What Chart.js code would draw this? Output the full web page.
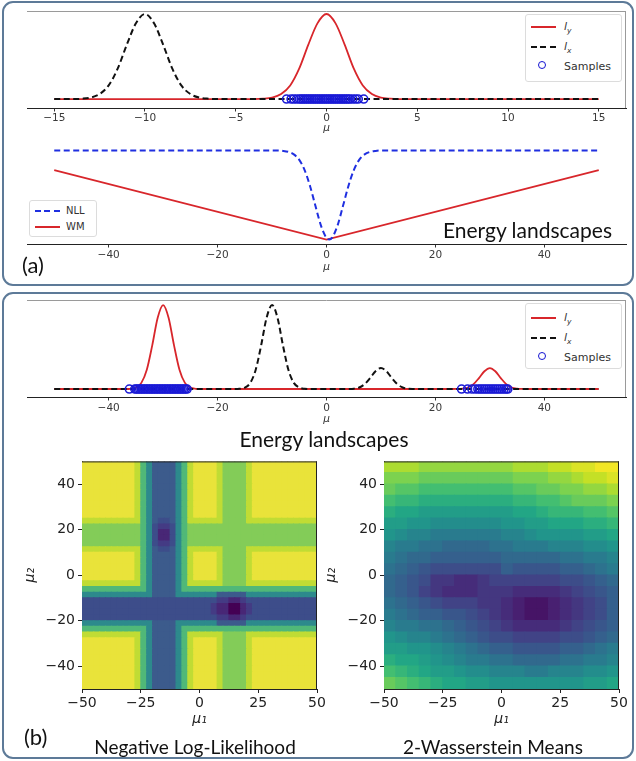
<!DOCTYPE html>
<html>
<head>
<meta charset="utf-8">
<title>Energy landscapes</title>
<script src="https://cdn.jsdelivr.net/npm/chart.js@4.4.1/dist/chart.umd.min.js"></script>
<style>
  body { margin:0; width:636px; height:761px; position:relative; overflow:hidden; background:#fff; }
  canvas { position:absolute; }
  .panel { position:absolute; box-sizing:border-box; border:2.5px solid #5d7a98; border-radius:11px; }
  .lbl { position:absolute; font-family:Lato, 'Open Sans', sans-serif; color:#111; white-space:nowrap; line-height:1; }
  .leg { position:absolute; box-sizing:border-box; background:#fff; border:1px solid #dcdcdc; border-radius:3px;
         font-family:'DejaVu Sans', sans-serif; font-size:11px; color:#333; }
  .leg .ln { position:absolute; width:25px; height:2px; }
  .leg .solid { background:#d8262b; }
  .leg .dash { background:repeating-linear-gradient(90deg,#111 0 6px,transparent 6px 9.5px); }
  .leg .bdash { background:repeating-linear-gradient(90deg,#1f2fe0 0 6px,transparent 6px 9.5px); }
  .leg .dot { position:absolute; width:6px; height:6px; border:1.8px solid #1414d2; border-radius:50%; }
  .leg .lt { position:absolute; line-height:1; }
  .leg sub { font-size:7.5px; }
</style>
</head>
<body>
<div class="panel" style="left:2px;top:1px;width:632px;height:285px"></div>
<div class="panel" style="left:2px;top:292px;width:632px;height:467px"></div>

<canvas id="a1" width="636" height="140" style="left:0;top:0"></canvas>
<canvas id="a2" width="636" height="145" style="left:0;top:140px"></canvas>
<canvas id="b1" width="636" height="135" style="left:0;top:293px"></canvas>
<canvas id="h1" width="330" height="285" style="left:0;top:450px"></canvas>
<canvas id="h2" width="320" height="285" style="left:316px;top:450px"></canvas>

<div class="leg" style="left:525px;top:14px;width:97px;height:68px">
  <div class="ln solid" style="left:5px;top:11px"></div><div class="lt" style="left:38px;top:6px"><i>l</i><sub><i>y</i></sub></div>
  <div class="ln dash" style="left:5px;top:31px"></div><div class="lt" style="left:38px;top:26px"><i>l</i><sub><i>x</i></sub></div>
  <div class="dot" style="left:12px;top:46px"></div><div class="lt" style="left:38px;top:46px">Samples</div>
</div>
<div class="leg" style="left:29px;top:200px;width:68px;height:37px;font-size:10px">
  <div class="ln bdash" style="left:5px;top:9px"></div><div class="lt" style="left:36px;top:5px">NLL</div>
  <div class="ln solid" style="left:5px;top:25px"></div><div class="lt" style="left:36px;top:21px">WM</div>
</div>
<div class="leg" style="left:525px;top:303px;width:97px;height:66px">
  <div class="ln solid" style="left:5px;top:13px"></div><div class="lt" style="left:38px;top:8px"><i>l</i><sub><i>y</i></sub></div>
  <div class="ln dash" style="left:5px;top:33px"></div><div class="lt" style="left:38px;top:28px"><i>l</i><sub><i>x</i></sub></div>
  <div class="dot" style="left:12px;top:48px"></div><div class="lt" style="left:38px;top:48px">Samples</div>
</div>

<div class="lbl" style="left:22px;top:254px;font-size:22px">(a)</div>
<div class="lbl" style="right:24px;top:219px;font-size:21px">Energy landscapes</div>
<div class="lbl" style="left:174px;width:300px;text-align:center;top:428px;font-size:21px">Energy landscapes</div>
<div class="lbl" style="left:24px;top:726px;font-size:22px">(b)</div>
<div class="lbl" style="left:45px;width:300px;text-align:center;top:737px;font-size:19px">Negative Log-Likelihood</div>
<div class="lbl" style="left:343px;width:300px;text-align:center;top:737px;font-size:19px">2-Wasserstein Means</div>

<script>
// ---------- data: panel (a) top ----------
const a1Ticks = [-15, -10, -5, 0, 5, 10, 15];
const a1LyX = [-15, -4, -3.5, -3, -2.5, -2, -1.5, -1, -0.5, 0, 0.5, 1, 1.5, 2, 2.5, 3, 3.5, 4, 15];
const a1LyY = [0, 0, 0.004, 0.017, 0.059, 0.16, 0.36, 0.64, 0.89, 1, 0.89, 0.64, 0.36, 0.16, 0.059, 0.017, 0.004, 0, 0];
const a1LxX = [-15, -14, -13.5, -13, -12.5, -12, -11.5, -11, -10.5, -10, -9.5, -9, -8.5, -8, -7.5, -7, -6.5, -6, 15];
const a1LxY = [0, 0, 0.004, 0.017, 0.059, 0.16, 0.36, 0.64, 0.89, 1, 0.89, 0.64, 0.36, 0.16, 0.059, 0.017, 0.004, 0, 0];
const a1Samples = [-2.2, -1.95, -1.8, -1.65, -1.5, -1.4, -1.3, -1.2, -1.1, -1, -0.9, -0.8, -0.7, -0.6, -0.5, -0.4, -0.3,
  -0.2, -0.1, 0, 0.1, 0.2, 0.3, 0.4, 0.5, 0.6, 0.7, 0.8, 0.9, 1, 1.1, 1.2, 1.3, 1.45, 1.6, 1.75, 2.05];

// ---------- data: panel (a) energy ----------
const a2Ticks = [-40, -20, 0, 20, 40];
const a2NllX = [-50, -9, -8, -7, -6, -5, -4, -3, -2, -1, 0, 0.5, 1, 2, 3, 4, 5, 6, 7, 8, 9, 10, 50];
const a2NllY = [1, 0.999, 0.995, 0.984, 0.956, 0.894, 0.777, 0.596, 0.37, 0.153, 0.018, 0, 0.018, 0.153, 0.37, 0.596,
  0.777, 0.894, 0.956, 0.984, 0.995, 0.999, 1];
const a2WmX = [-50, 0, 50];
const a2WmY = [0.78, 0, 0.78];

// ---------- data: panel (b) top ----------
const b1Ticks = [-40, -20, 0, 20, 40];
const b1LyX = [-50, -37, -36, -35, -34, -33, -32, -31, -30, -29, -28, -27, -26, -25, -24, -23,
  23, 24, 25, 26, 27, 28, 29, 30, 31, 32, 33, 34, 35, 36, 37, 50];
const b1LyY = [0, 0, 0.003, 0.017, 0.073, 0.23, 0.52, 0.849, 1, 0.849, 0.52, 0.23, 0.073, 0.017, 0.003, 0,
  0, 0.001, 0.004, 0.018, 0.058, 0.13, 0.212, 0.25, 0.212, 0.13, 0.058, 0.018, 0.004, 0.001, 0, 0];
const b1LxX = [-50, -17, -16, -15, -14, -13, -12, -11, -10, -9, -8, -7, -6, -5, -4, -3,
  3, 4, 5, 6, 7, 8, 9, 10, 11, 12, 13, 14, 15, 16, 17, 50];
const b1LxY = [0, 0, 0.003, 0.017, 0.073, 0.23, 0.52, 0.849, 1, 0.849, 0.52, 0.23, 0.073, 0.017, 0.003, 0,
  0, 0.001, 0.004, 0.018, 0.058, 0.13, 0.212, 0.25, 0.212, 0.13, 0.058, 0.018, 0.004, 0.001, 0, 0];
const b1Samples = [-36.2, -35.2, -34.9, -34.6, -34.3, -34, -33.7, -33.4, -33.1, -32.8, -32.5, -32.2, -31.9, -31.6,
  -31.3, -31, -30.7, -30.4, -30.1, -29.8, -29.5, -29.2, -28.9, -28.6, -28.3, -28, -27.7, -27.4, -27.1, -26.8,
  -26.5, -26.2, -25.9, -25.6,
  24.8, 25.9, 26.7, 27.3, 27.8, 28.2, 28.6, 29, 29.4, 29.8, 30.2, 30.6, 31, 31.4, 31.8, 32.2, 32.6, 33, 33.3];

// ---------- data: heat maps ----------
const hTicksX = [-50, -25, 0, 25, 50];
const hTicksY = [-40, -20, 0, 20, 40];

// NLL: 40 x 40 cells of 2.5 units, level 0 (dark) .. 9 (yellow), rows from mu2 = 48.75 down
const nllCenters = [-48.75, -46.25, -43.75, -41.25, -38.75, -36.25, -33.75, -31.25, -28.75, -26.25,
  -23.75, -21.25, -18.75, -16.25, -13.75, -11.25, -8.75, -6.25, -3.75, -1.25,
  1.25, 3.75, 6.25, 8.75, 11.25, 13.75, 16.25, 18.75, 21.25, 23.75,
  26.25, 28.75, 31.25, 33.75, 36.25, 38.75, 41.25, 43.75, 46.25, 48.75];
const rowY   = "9999999998" + "6544445689" + "9998777789" + "9999999999";
const rowYG  = "8888888888" + "6544445688" + "8888777788" + "8888888888";
const rowYGs = "8888888888" + "6543345688" + "8888777788" + "8888888888";
const rowGa  = "7777777777" + "6532235677" + "7777777777" + "7777777777";
const rowGb  = "7777777777" + "6531135677" + "7777777777" + "7777777777";
const rowTG  = "6666666666" + "6544445666" + "6666666666" + "6666666666";
const rowT   = "5555555555" + "5544445555" + "5554444455" + "5555555555";
const rowBa  = "3333333333" + "3333333333" + "3332211233" + "3333333333";
const rowBb  = "3333333333" + "3333333333" + "3321100123" + "3333333333";
const nllRows = [
  rowY, rowY, rowY, rowY, rowY, rowY, rowY, rowY, rowY, rowY,
  rowYGs, rowGa, rowGb, rowGb, rowGa, rowYGs,
  rowY, rowY, rowY, rowY, rowY,
  rowYG, rowTG, rowT, rowBa, rowBb, rowBb, rowBa, rowT, rowTG, rowYG,
  rowY, rowY, rowY, rowY, rowY, rowY, rowY, rowY, rowY
];

// 2-Wasserstein: 20 x 20 cells of 5 units, rows from mu2 = 47.5 down
const wCenters = [-47.5, -42.5, -37.5, -32.5, -27.5, -22.5, -17.5, -12.5, -7.5, -2.5,
  2.5, 7.5, 12.5, 17.5, 22.5, 27.5, 32.5, 37.5, 42.5, 47.5];
const wRows = [
  [49.8, 49.1, 48.4, 47.9, 47.5, 47.2, 47.1, 47.1, 47.2, 47.5, 47.9, 48.4, 49.1, 49.8, 50.7, 51.7, 52.7, 53.9, 55.2, 56.5],
  [45.9, 45.1, 44.4, 43.8, 43.4, 43.1, 42.9, 42.9, 43.1, 43.4, 43.8, 44.4, 45.1, 45.9, 46.8, 47.9, 49.1, 50.3, 51.7, 52.4],
  [42.1, 41.2, 40.4, 39.8, 39.3, 39.0, 38.8, 38.8, 39.0, 39.3, 39.8, 40.4, 41.2, 42.1, 43.1, 44.2, 45.5, 46.8, 47.5, 48.3],
  [38.3, 37.3, 36.5, 35.8, 35.3, 34.9, 34.7, 34.7, 34.9, 35.3, 35.8, 36.5, 37.3, 38.3, 39.5, 40.7, 42.1, 42.6, 43.4, 44.2],
  [34.7, 33.6, 32.7, 31.9, 31.3, 30.9, 30.7, 30.7, 30.9, 31.3, 31.9, 32.7, 33.6, 34.7, 36.0, 37.3, 37.8, 38.5, 39.3, 40.2],
  [31.3, 30.1, 29.1, 28.2, 27.5, 27.0, 26.8, 26.8, 27.0, 27.5, 28.2, 29.1, 30.1, 31.3, 32.7, 33.1, 33.6, 34.4, 35.3, 36.3],
  [28.2, 26.8, 25.6, 24.6, 23.9, 23.3, 23.1, 23.1, 23.3, 23.9, 24.6, 25.6, 26.8, 28.2, 28.4, 28.8, 29.5, 30.3, 31.3, 32.5],
  [25.4, 23.9, 22.5, 21.4, 20.5, 19.8, 19.5, 19.5, 19.8, 20.5, 21.4, 22.5, 23.9, 23.8, 24.1, 24.6, 25.4, 26.3, 27.5, 28.8],
  [23.0, 21.4, 19.8, 18.5, 17.5, 16.8, 16.4, 16.4, 16.8, 17.5, 18.5, 19.8, 19.5, 19.5, 19.8, 20.5, 21.4, 22.5, 23.9, 25.4],
  [21.0, 19.0, 17.0, 15.0, 13.5, 12.5, 12.0, 12.0, 12.5, 13.5, 16.4, 15.6, 15.2, 15.2, 15.6, 16.4, 17.5, 18.9, 20.5, 22.2],
  [19.5, 17.0, 14.5, 12.0, 9.5, 8.0, 7.5, 7.5, 8.5, 10.5, 11.5, 11.4, 10.9, 10.9, 11.4, 12.5, 13.9, 15.6, 17.5, 19.5],
  [19.5, 17.0, 14.5, 11.5, 9.0, 7.5, 7.0, 7.0, 8.0, 9.5, 9.0, 7.5, 6.6, 6.6, 7.5, 9.0, 10.9, 13.0, 15.2, 17.5],
  [20.5, 18.0, 16.0, 14.0, 12.0, 10.5, 10.0, 10.0, 9.5, 8.5, 6.6, 4.4, 2.5, 2.5, 4.4, 6.6, 9.1, 11.5, 13.9, 16.4],
  [22.0, 20.0, 18.5, 17.0, 16.0, 15.0, 14.5, 13.0, 11.5, 9.1, 6.6, 4.4, 2.5, 2.5, 4.4, 6.6, 9.1, 11.5, 13.9, 16.4],
  [25.4, 23.9, 22.5, 21.4, 20.5, 19.8, 17.5, 15.2, 13.0, 10.9, 9.0, 7.5, 6.6, 6.6, 7.5, 9.0, 10.9, 13.0, 15.2, 17.5],
  [28.2, 26.8, 25.6, 24.6, 23.9, 21.7, 19.5, 17.5, 15.6, 13.9, 12.5, 11.4, 10.9, 10.9, 11.4, 12.5, 13.9, 15.6, 17.5, 19.5],
  [31.3, 30.1, 29.1, 28.2, 26.1, 24.1, 22.2, 20.5, 18.9, 17.5, 16.4, 15.6, 15.2, 15.2, 15.6, 16.4, 17.5, 18.9, 20.5, 22.2],
  [34.7, 33.6, 32.7, 30.7, 28.8, 27.1, 25.4, 23.9, 22.5, 21.4, 20.5, 19.8, 19.5, 19.5, 19.8, 20.5, 21.4, 22.5, 23.9, 25.4],
  [38.3, 37.3, 35.4, 33.6, 31.9, 30.3, 28.8, 27.5, 26.3, 25.4, 24.6, 24.1, 23.8, 23.8, 24.1, 24.6, 25.4, 26.3, 27.5, 28.8],
  [42.1, 40.2, 38.5, 36.8, 35.3, 33.8, 32.5, 31.3, 30.3, 29.5, 28.8, 28.4, 28.2, 28.2, 28.4, 28.8, 29.5, 30.3, 31.3, 32.5]
];

// ---------- styling helpers ----------
Chart.defaults.font.family = "'DejaVu Sans', sans-serif";

const nllPalette = { '0': '#440154', '1': '#482776', '2': '#443b84', '3': '#3d4d8a', '4': '#3c5b8c',
  '5': '#2d8a8c', '6': '#50b878', '7': '#83cc58', '8': '#c0dc34', '9': '#e9e33a' };
const viridisStops = ['#440154', '#482475', '#414487', '#355f8d', '#2a788e', '#21918c', '#22a884', '#44bf70',
  '#7ad151', '#bddf26', '#fde725'];
const wMax = 56, wLevels = 28;

function hexRgb(h) { const n = parseInt(h.slice(1), 16); return [n >> 16, (n >> 8) & 255, n & 255]; }
function viridis(t) {
  t = Math.min(1, Math.max(0, t));
  const f = t * 10, i = Math.min(9, Math.floor(f)), k = f - i;
  const a = hexRgb(viridisStops[i]), b = hexRgb(viridisStops[i + 1]);
  return 'rgb(' + a.map((c, j) => Math.round(c + (b[j] - c) * k)).join(',') + ')';
}
function wColor(v) { return viridis((Math.min(wLevels - 1, Math.floor(v / wMax * wLevels)) + 0.5) / wLevels); }

const fmt = v => (v < 0 ? '\u2212' + Math.abs(v) : '' + v);
const pts = (xs, ys) => xs.map((x, i) => ({ x: x, y: ys[i] }));

const framePlugin = {
  id: 'frame',
  afterDraw(chart, args, o) {
    if (!o || !o.sides) return;
    const ctx = chart.ctx, a = chart.chartArea;
    ctx.save();
    ctx.strokeStyle = o.color;
    ctx.lineWidth = 1;
    ctx.beginPath();
    if (o.sides.includes('t')) { ctx.moveTo(a.left, a.top + 0.5); ctx.lineTo(a.right, a.top + 0.5); }
    if (o.sides.includes('r')) { ctx.moveTo(a.right - 0.5, a.top); ctx.lineTo(a.right - 0.5, a.bottom); }
    if (o.sides.includes('l')) { ctx.moveTo(a.left + 0.5, a.top); ctx.lineTo(a.left + 0.5, a.bottom); }
    ctx.stroke();
    ctx.restore();
  }
};

function lineChart(id, c) {
  return new Chart(document.getElementById(id), {
    type: 'scatter',
    data: { datasets: c.datasets },
    options: {
      responsive: false, animation: false, events: [],
      layout: { padding: c.pad },
      plugins: { legend: { display: false }, tooltip: { enabled: false }, frame: c.frame },
      scales: {
        x: {
          type: 'linear', min: c.xMin, max: c.xMax,
          afterBuildTicks: s => { s.ticks = c.ticks.map(v => ({ value: v })); },
          afterFit: s => { s.height = c.axisH; },
          grid: { drawOnChartArea: false, drawTicks: true, tickLength: 3.5, color: '#333' },
          border: { display: true, color: '#222', width: 1 },
          ticks: { font: { size: 10.5 }, color: '#3a3a3a', padding: c.tickPad, maxRotation: 0, autoSkip: false, callback: fmt },
          title: { display: true, text: 'μ', color: '#333', font: { size: 10.5, style: 'italic' }, padding: { top: 0, bottom: c.titlePad } }
        },
        y: { display: false, min: c.yMin, max: c.yMax }
      }
    },
    plugins: [framePlugin]
  });
}

const sampleStyle = { showLine: false, pointRadius: 4, pointBorderWidth: 1.6, pointBorderColor: '#1a1ad6',
  pointBackgroundColor: 'rgba(0,0,0,0)', order: 0 };
const redLine = { showLine: true, borderColor: '#d8262b', borderWidth: 1.8, pointRadius: 0, cubicInterpolationMode: 'monotone', order: 2 };
const blackDash = { showLine: true, borderColor: '#111', borderWidth: 2, borderDash: [6, 3.5], pointRadius: 0, cubicInterpolationMode: 'monotone', order: 1 };

lineChart('a1', {
  xMin: -16.5, xMax: 16.5, yMin: -0.105, yMax: 1.035, ticks: a1Ticks,
  pad: { left: 27, right: 10, top: 11, bottom: 0 }, axisH: 32, tickPad: 0.5, titlePad: 5.5,
  frame: { sides: 'tr', color: '#9a9a9a' },
  datasets: [
    Object.assign({ label: 'Samples', data: a1Samples.map(x => ({ x: x, y: 0 })) }, sampleStyle),
    Object.assign({ label: 'l_x', data: pts(a1LxX, a1LxY) }, blackDash),
    Object.assign({ label: 'l_y', data: pts(a1LyX, a1LyY) }, redLine)
  ]
});

lineChart('a2', {
  xMin: -55, xMax: 55, yMin: -0.05, yMax: 1.05, ticks: a2Ticks,
  pad: { left: 27, right: 10, top: 6, bottom: 0 }, axisH: 41, tickPad: 1.5, titlePad: 11.5,
  frame: {},
  datasets: [
    { label: 'NLL', data: pts(a2NllX, a2NllY), showLine: true, borderColor: '#1f2fe0', borderWidth: 2,
      borderDash: [6, 3.5], pointRadius: 0, cubicInterpolationMode: 'monotone' },
    { label: 'WM', data: pts(a2WmX, a2WmY), showLine: true, borderColor: '#d8262b', borderWidth: 1.8, pointRadius: 0 }
  ]
});

lineChart('b1', {
  xMin: -55, xMax: 55, yMin: -0.095, yMax: 1.06, ticks: b1Ticks,
  pad: { left: 27, right: 10, top: 7, bottom: 0 }, axisH: 31, tickPad: 1.5, titlePad: 2.5,
  frame: { sides: 'tr', color: '#9a9a9a' },
  datasets: [
    Object.assign({ label: 'Samples', data: b1Samples.map(x => ({ x: x, y: 0 })) }, sampleStyle),
    Object.assign({ label: 'l_x', data: pts(b1LxX, b1LxY) }, blackDash),
    Object.assign({ label: 'l_y', data: pts(b1LyX, b1LyY) }, redLine)
  ]
});

// ---------- heat maps ----------
function heatChart(id, cells, step, colorOf, c) {
  const tickFont = { size: 14 };
  const titleFont = { size: 14, style: 'italic' };
  return new Chart(document.getElementById(id), {
    type: 'scatter',
    data: { datasets: [{
      data: cells, pointStyle: 'rect', pointBorderWidth: 0, clip: 0,
      pointRadius: ctx => {
        const s = ctx.chart.scales.x;
        return (Math.abs(s.getPixelForValue(step) - s.getPixelForValue(0)) + 1) * Math.SQRT1_2;
      },
      pointBackgroundColor: ctx => colorOf(ctx.raw.v)
    }] },
    options: {
      responsive: false, animation: false, events: [],
      layout: { padding: c.pad },
      plugins: { legend: { display: false }, tooltip: { enabled: false }, frame: { sides: 'tr', color: '#222' } },
      scales: {
        x: {
          type: 'linear', min: -50, max: 50,
          afterBuildTicks: s => { s.ticks = hTicksX.map(v => ({ value: v })); },
          afterFit: s => { s.height = c.axisH; },
          grid: { drawOnChartArea: false, tickLength: 4, color: '#222' },
          border: { color: '#222' },
          ticks: { font: tickFont, color: '#222', padding: 2, maxRotation: 0, autoSkip: false, callback: fmt },
          title: { display: true, text: 'μ₁', color: '#222', font: titleFont, padding: { top: 0, bottom: c.xTitlePad } }
        },
        y: {
          type: 'linear', min: -50, max: 50,
          afterBuildTicks: s => { s.ticks = hTicksY.map(v => ({ value: v })); },
          afterFit: s => { s.width = c.axisW; },
          grid: { drawOnChartArea: false, tickLength: 4, color: '#222' },
          border: { color: '#222' },
          ticks: { font: tickFont, color: '#222', padding: 3, autoSkip: false, callback: fmt },
          title: { display: true, text: 'μ₂', color: '#222', font: titleFont, padding: { top: c.yTitlePad, bottom: 0 } }
        }
      }
    },
    plugins: [framePlugin]
  });
}

const nllCells = [];
nllRows.forEach((row, r) => {
  for (let i = 0; i < row.length; i++) nllCells.push({ x: nllCenters[i], y: nllCenters[nllCenters.length - 1 - r], v: row[i] });
});
const wCells = [];
wRows.forEach((row, r) => {
  row.forEach((v, i) => wCells.push({ x: wCenters[i], y: wCenters[wCenters.length - 1 - r], v: v }));
});

heatChart('h1', nllCells, 2.5, v => nllPalette[v], {
  pad: { left: 0, right: 13, top: 10, bottom: 0 }, axisH: 46, axisW: 82, xTitlePad: 7.6, yTitlePad: 21.6
});
heatChart('h2', wCells, 5, wColor, {
  pad: { left: 0, right: 17, top: 10, bottom: 0 }, axisH: 46, axisW: 68, xTitlePad: 7.6, yTitlePad: 6.6
});
</script>
</body>
</html>
